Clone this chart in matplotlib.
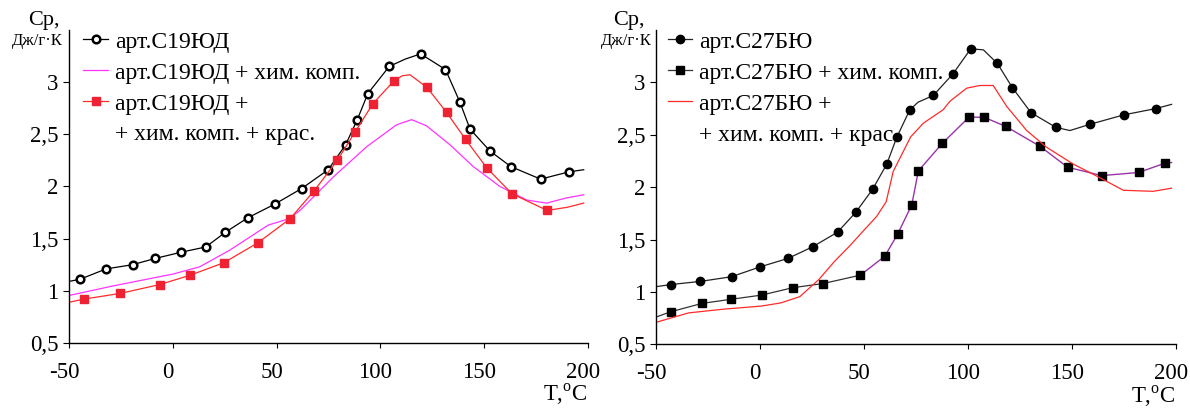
import numpy as np
import matplotlib as mpl
mpl.use('Agg')
import matplotlib.pyplot as plt
from matplotlib.lines import Line2D
from matplotlib.transforms import ScaledTranslation

plt.rcParams['font.family'] = ['Liberation Serif', 'DejaVu Serif']
plt.rcParams['mathtext.fontset'] = 'custom'
plt.rcParams['mathtext.rm'] = 'Liberation Serif'

# left panel: арт.С19ЮД
t_a = [-50, -44.8, -32.1, -19.4, -8.5, 4.1, 15.9, 25.3, 36.2, 49.1, 62.1, 74.9, 83.3,
       88.9, 94.0, 104.3, 112, 119.4, 131.4, 138.3, 143.2, 152.8, 162.9, 177.2, 191, 198]
cp_a = [1.09, 1.11, 1.21, 1.25, 1.31, 1.37, 1.42, 1.56, 1.70, 1.83, 1.98, 2.16, 2.40,
        2.64, 2.89, 3.15, 3.22, 3.27, 3.12, 2.81, 2.55, 2.34, 2.19, 2.07, 2.14, 2.16]
mk_a = [1, 2, 3, 4, 5, 6, 7, 8, 9, 10, 11, 12, 13, 14, 15, 17, 18, 19, 20, 21, 22, 23, 24]

t_ab = [-50, -28, 0, 13, 27.5, 46, 56, 61.3, 77.3, 93.4, 107.8, 115.1, 122.3, 133.5,
        144.8, 157.6, 170.5, 180.1, 189.7, 198]
cp_ab = [0.955, 1.05, 1.16, 1.23, 1.39, 1.63, 1.69, 1.77, 2.09, 2.38, 2.59, 2.64, 2.58,
         2.40, 2.19, 2.00, 1.87, 1.84, 1.89, 1.92]

t_abc = [-50, -43, -25.3, -6.3, 8.5, 24.7, 41, 56.5, 68.2, 79.3, 87.8, 96.3, 106.5,
         110.5, 114.3, 122.4, 131.9, 141.1, 151.2, 163.4, 180.4, 190, 198]
cp_abc = [0.89, 0.92, 0.975, 1.06, 1.15, 1.27, 1.46, 1.69, 1.96, 2.25, 2.52, 2.79, 3.01,
          3.06, 3.07, 2.95, 2.71, 2.45, 2.18, 1.93, 1.77, 1.80, 1.84]
mk_abc = [1, 2, 3, 4, 5, 6, 7, 8, 9, 10, 11, 12, 15, 16, 17, 18, 19, 20]

# right panel: арт.С27БЮ
t_b = [-50, -43, -28.8, -13.7, 0.2, 13.5, 25.3, 37.3, 46.1, 54.2, 61.0, 65.8, 72.0, 76,
       83.4, 92.8, 101.4, 107.5, 114.2, 121.4, 130.4, 142.4, 149.1, 158.8, 175.1, 190.5, 198]
cp_b = [1.05, 1.07, 1.10, 1.145, 1.24, 1.32, 1.43, 1.57, 1.76, 1.98, 2.22, 2.475, 2.735,
        2.81, 2.875, 3.08, 3.32, 3.31, 3.18, 2.95, 2.71, 2.57, 2.54, 2.60, 2.69, 2.75, 2.79]
mk_b = [1, 2, 3, 4, 5, 6, 7, 8, 9, 10, 11, 12, 14, 15, 16, 18, 19, 20, 21, 23, 24, 25]

t_bh = [-50, -43, -28, -13.8, 0.9, 15.7, 30.4, 48.3, 60, 66.2, 73, 76.2, 87.8, 100.7,
        108, 118.2, 134.7, 148, 164.4, 182.2, 195, 198]
cp_bh = [0.76, 0.81, 0.89, 0.93, 0.97, 1.04, 1.08, 1.16, 1.34, 1.55, 1.83, 2.155, 2.42,
         2.67, 2.665, 2.58, 2.39, 2.19, 2.11, 2.14, 2.23, 2.235]
n_dark = 8  # first part of the curve is drawn dark, the rest purple

t_bhk = [-50, -34.3, -17.7, 0.7, 10, 19.2, 28.4, 35.8, 43.2, 48.7, 56.1, 60.7, 64.1, 72.5,
         78.6, 88.2, 91.4, 99.5, 105.8, 112.2, 118.7, 128.3, 137.9, 150.7, 163.5, 174.8,
         189.2, 198]
cp_bhk = [0.71, 0.80, 0.835, 0.865, 0.895, 0.955, 1.12, 1.29, 1.44, 1.56, 1.72, 1.86,
          2.15, 2.48, 2.61, 2.74, 2.82, 2.945, 2.97, 2.97, 2.77, 2.54, 2.38, 2.22, 2.09,
          1.97, 1.96, 1.99]

xticks = [-50, 0, 50, 100, 150, 200]
yticks = [0.5, 1, 1.5, 2, 2.5, 3]
ylabels = ['0,5', '1', '1,5', '2', '2,5', '3']

fig = plt.figure(figsize=(11.9, 4.12), dpi=100)
ax1 = fig.add_axes([0.058, 0.1675, 0.436, 0.760])
ax2 = fig.add_axes([0.5513, 0.1643, 0.4367, 0.763])


def style_axes(ax):
    ax.set_xlim(-50, 200)
    ax.set_ylim(0.5, 3.5)
    ax.set_xticks(xticks)
    ax.set_xticklabels([str(v) for v in xticks])
    ax.set_yticks(yticks)
    ax.set_yticklabels(ylabels)
    for s in ['top', 'right']:
        ax.spines[s].set_visible(False)
    for s in ['left', 'bottom']:
        ax.spines[s].set_linewidth(1.0)
    ax.tick_params(axis='x', direction='out', length=3.5, pad=10, labelsize=16.5)
    ax.tick_params(axis='y', direction='out', length=4.5, pad=3, labelsize=16.5)
    # labels under the x axis sit a little left of their ticks
    shift = ScaledTranslation(-5 / 100, 0, fig.dpi_scale_trans)
    for lab in ax.get_xticklabels():
        lab.set_transform(lab.get_transform() + shift)
    ax.text(1.0, -0.165, 'T,$^{\\mathregular{o}}$C', transform=ax.transAxes,
            ha='right', va='center', fontsize=16.5)


def add_legend(ax, handles, labels, x0):
    blank = Line2D([], [], linestyle='none')
    leg = ax.legend(handles + [blank], labels, loc='upper left',
                    bbox_to_anchor=(x0, 1.0), frameon=False, fontsize=17, numpoints=1,
                    handlelength=1.05, handletextpad=0.3, labelspacing=0.4,
                    borderaxespad=0, borderpad=0.05)
    return leg


style_axes(ax1)
style_axes(ax2)

l1, = ax1.plot(t_a, cp_a, color='black', lw=0.9, marker='o', markevery=mk_a, ms=5.5,
               mfc='white', mec='black', mew=1.8)
l2, = ax1.plot(t_ab, cp_ab, color='#ff33ff', lw=0.9)
l3, = ax1.plot(t_abc, cp_abc, color='#ff2a2a', lw=0.9, marker='s', markevery=mk_abc,
               ms=5.5, mfc='#ee2233', mec='#ee2233')
add_legend(ax1, [l1, l2, l3],
           ['арт.C19ЮД', 'арт.C19ЮД + хим. комп.', 'арт.C19ЮД +', '+ хим. комп. + крас.'],
           0.025)

r1, = ax2.plot(t_b, cp_b, color='#222222', lw=0.9, marker='o', markevery=mk_b, ms=6,
               mfc='black', mec='black')
ax2.plot(t_bh[n_dark - 1:], cp_bh[n_dark - 1:], color='#9933aa', lw=1.0, marker='s',
         markevery=list(range(1, len(t_bh) - n_dark)), ms=5.5, mfc='black', mec='black')
r2, = ax2.plot(t_bh[:n_dark], cp_bh[:n_dark], color='#333333', lw=0.9, marker='s',
               markevery=list(range(1, n_dark)), ms=5.5, mfc='black', mec='black')
r3, = ax2.plot(t_bhk, cp_bhk, color='#ff2a2a', lw=0.9)
add_legend(ax2, [r1, r2, r3],
           ['арт.C27БЮ', 'арт.C27БЮ + хим. комп.', 'арт.C27БЮ +', '+ хим. комп. + крас.'],
           0.02)

# y-axis captions above the axes
for x_cp, x_un in [(44, 37), (629, 626)]:
    fig.text(x_cp / 1190, 1 - 20 / 412, 'Ср,', ha='center', va='center', fontsize=16)
    fig.text(x_un / 1190, 1 - 41 / 412, 'Дж/г·К', ha='center', va='center', fontsize=12)

fig.savefig('out.png', dpi=100)
